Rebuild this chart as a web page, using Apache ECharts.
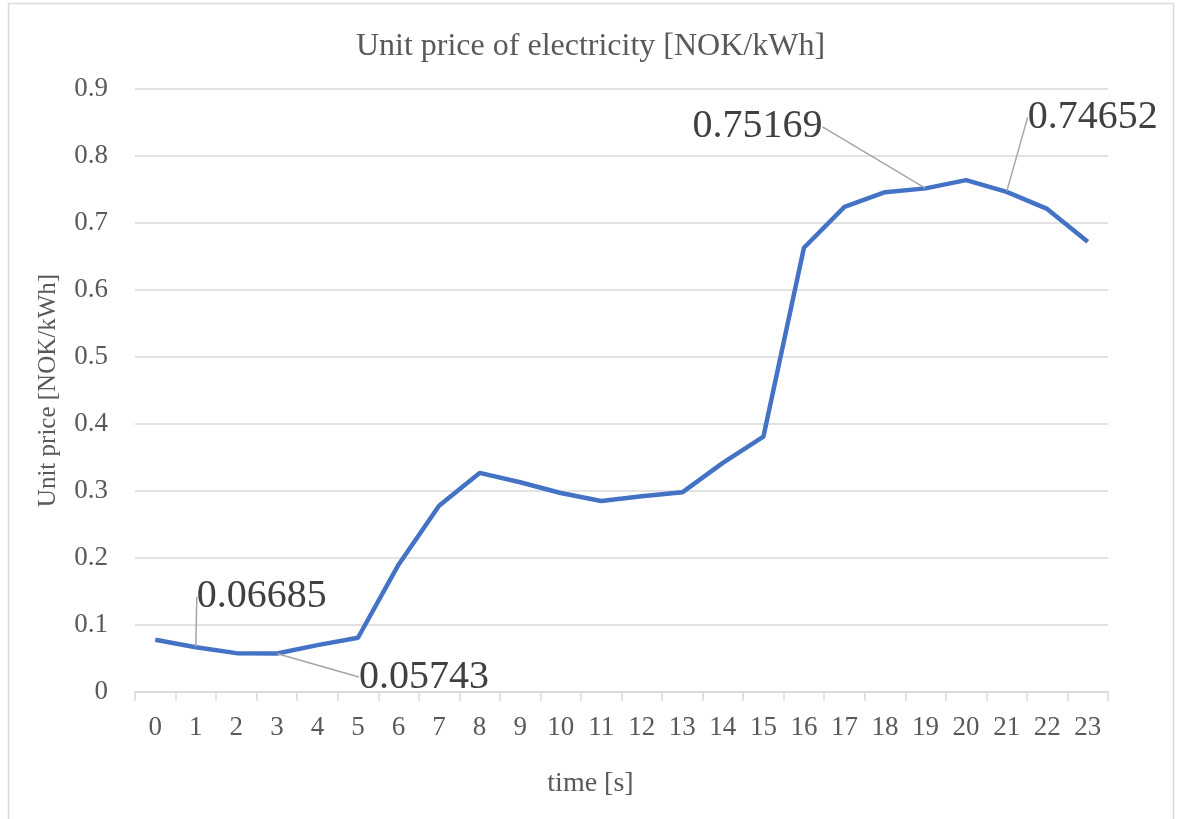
<!DOCTYPE html>
<html>
<head>
<meta charset="utf-8">
<script src="https://cdn.jsdelivr.net/npm/echarts@6/dist/echarts.min.js"></script>
<style>
  html, body { margin: 0; padding: 0; background: #fff; }
  #chart { width: 1181px; height: 819px; }
</style>
</head>
<body>
<div id="chart"></div>
<script>
// hours on the x axis
var hours = ["0","1","2","3","4","5","6","7","8","9","10","11","12","13","14","15","16","17","18","19","20","21","22","23"];
// unit price per hour, NOK/kWh
var prices = [0.078, 0.06685, 0.058, 0.05743, 0.070, 0.081, 0.190, 0.278, 0.327, 0.313, 0.297, 0.285,
              0.292, 0.298, 0.342, 0.381, 0.663, 0.724, 0.746, 0.75169, 0.764, 0.74652, 0.721, 0.672];
// which points carry a value label
var labelled = [1, 3, 19, 21];
// label offsets from the default "top" position
var labelShift = { 1: [66, -25], 3: [147, 49], 19: [-168, -36], 21: [86, -49] };

var grey = "#595959";
var serif = "Liberation Serif";

var chart = echarts.init(document.getElementById("chart"));

var seriesData = prices.map(function (v, i) {
    if (labelled.indexOf(i) < 0) return v;
    return {
        value: v,
        label: { show: true, formatter: String(v) },
        labelLine: { show: true }
    };
});

chart.setOption({
    animation: false,
    title: {
        text: "Unit price of electricity [NOK/kWh]",
        left: "center",
        top: 26,
        padding: [5, 0, 5, 18],
        textStyle: { fontFamily: serif, fontSize: 32, fontWeight: "normal", color: grey }
    },
    graphic: [{
        type: "rect",
        shape: { x: 8.5, y: 3.5, width: 1165, height: 840 },
        style: { fill: null, stroke: "#d9d9d9", lineWidth: 1.5 },
        silent: true
    }],
    grid: { left: 135, right: 73, top: 89, bottom: 127 },
    xAxis: {
        type: "category",
        data: hours,
        name: "time [s]",
        nameLocation: "middle",
        nameGap: 78,
        nameTextStyle: { fontFamily: serif, fontSize: 28, color: grey, padding: [0, 62, 0, 0] },
        axisLine: { lineStyle: { color: "#d9d9d9", width: 1.5 } },
        axisTick: { show: true, length: 9, lineStyle: { color: "#d9d9d9", width: 1.5 } },
        axisLabel: { fontFamily: serif, fontSize: 27, color: grey, margin: 22 }
    },
    yAxis: {
        type: "value",
        min: 0,
        max: 0.9,
        interval: 0.1,
        name: "Unit price [NOK/kWh]",
        nameLocation: "middle",
        nameGap: 74,
        nameTextStyle: { fontFamily: serif, fontSize: 25, color: grey },
        axisLine: { show: false },
        axisTick: { show: false },
        axisLabel: {
            fontFamily: serif, fontSize: 27, color: grey, margin: 27,
            formatter: function (v) { return String(Math.round(v * 10) / 10); }
        },
        splitLine: { lineStyle: { color: "#d9d9d9", width: 1.5 } }
    },
    series: [{
        type: "line",
        data: seriesData,
        symbol: "circle",
        symbolSize: 1,
        showSymbol: true,
        showAllSymbol: true,
        lineStyle: { color: "#4472c4", width: 4.5 },
        itemStyle: { color: "rgba(0,0,0,0)" },
        label: {
            show: false,
            position: "top",
            fontFamily: serif,
            fontSize: 40,
            color: "#404040"
        },
        labelLine: { show: false, lineStyle: { color: "#a6a6a6", width: 1.5 } },
        labelLayout: function (p) {
            var s = labelShift[p.dataIndex];
            if (!s) return {};
            return { dx: s[0], dy: s[1] };
        }
    }]
});
</script>
</body>
</html>
